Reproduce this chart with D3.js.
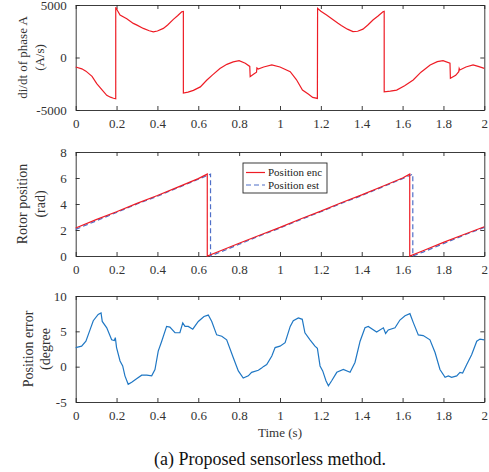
<!DOCTYPE html>
<html lang="en">
<head>
	<meta charset="utf-8">
		<script type="text/javascript" src="https://d3js.org/d3.v7.min.js"></script>
		<style type="text/css">
			body { margin: 0; background: #fff; }
			svg text { font-family: "Liberation Serif", "DejaVu Serif", serif !important; }
		</style>
</head>
<body>
<script type="text/javascript">
// x ticks shared by all three panels
var timeTicks = [0, 0.2, 0.4, 0.6, 0.8, 1, 1.2, 1.4, 1.6, 1.8, 2];

// panel 1: di/dt of phase A
var didtTime = [0, 0.03, 0.05, 0.08, 0.103, 0.13, 0.152, 0.17, 0.185, 0.196,
  0.196, 0.205, 0.217, 0.25, 0.282, 0.3, 0.331, 0.36, 0.38, 0.4, 0.429, 0.45, 0.478, 0.5, 0.519, 0.527,
  0.527, 0.55, 0.576, 0.61, 0.641, 0.67, 0.706, 0.74, 0.771, 0.8, 0.83, 0.852,
  0.854, 0.87, 0.885, 0.887, 0.893, 0.92, 0.96, 1.0, 1.05, 1.08, 1.11, 1.14, 1.16, 1.183,
  1.184, 1.2, 1.228, 1.26, 1.284, 1.3, 1.33, 1.357, 1.38, 1.406, 1.43, 1.455, 1.48, 1.504, 1.51,
  1.51, 1.54, 1.571, 1.61, 1.652, 1.69, 1.735, 1.77, 1.798, 1.832,
  1.834, 1.86, 1.875, 1.877, 1.88, 1.91, 1.945, 1.97, 2.0];
var didtValue = [-900, -1080, -1300, -1800, -2490, -3100, -3600, -3780, -3880, -3920,
  4780, 4450, 4040, 3700, 3250, 3080, 2770, 2550, 2450, 2520, 2770, 3100, 3630, 4000, 4360, 4380,
  -3380, -3300, -3130, -2800, -2170, -1650, -1050, -650, -420, -300, -550, -850,
  -1830, -1600, -1400, -1000, -1100, -900, -710, -900, -1350, -2100, -3100, -3500, -3800, -3900,
  4690, 4400, 4050, 3600, 3260, 3050, 2700, 2460, 2500, 2700, 3100, 3570, 3950, 4360, 4400,
  -3260, -3200, -3100, -2700, -2140, -1400, -710, -400, -300, -550,
  -1980, -1700, -1350, -1050, -1190, -900, -710, -850, -1030];
var didtTicks = [-5000, 0, 5000];

// panel 2: rotor position
var encTime = [0, 0.1, 0.2, 0.3, 0.4, 0.5, 0.6, 0.644, 0.644, 0.7, 0.8, 0.9, 1.0, 1.1, 1.2, 1.3, 1.4, 1.5, 1.6, 1.635, 1.635, 1.7, 1.8, 1.9, 2.0];
var encValue = [2.15, 2.8, 3.4, 4.05, 4.65, 5.3, 5.95, 6.3, 0, 0.35, 0.98, 1.6, 2.2, 2.85, 3.45, 4.1, 4.7, 5.35, 6.0, 6.3, 0, 0.4, 1.05, 1.65, 2.25];
var estTime = [0, 0.1, 0.2, 0.3, 0.4, 0.5, 0.6, 0.66, 0.66, 0.7, 0.8, 0.9, 1.0, 1.1, 1.2, 1.3, 1.4, 1.5, 1.6, 1.65, 1.65, 1.7, 1.8, 1.9, 2.0];
var estValue = [2.05, 2.7, 3.35, 4.0, 4.6, 5.25, 5.9, 6.3, 0, 0.25, 0.9, 1.55, 2.15, 2.8, 3.4, 4.05, 4.65, 5.3, 5.95, 6.3, 0, 0.3, 0.95, 1.6, 2.2];
var posTicks = [0, 2, 4, 6, 8];

// panel 3: position error
var errTime = [0, 0.029, 0.05, 0.07, 0.086, 0.11, 0.124, 0.13, 0.152, 0.176, 0.189, 0.194, 0.2, 0.217, 0.23, 0.241, 0.257,
  0.274, 0.298, 0.323, 0.348, 0.372, 0.388, 0.404, 0.421, 0.445, 0.461, 0.486, 0.51, 0.524, 0.535, 0.551, 0.573,
  0.6, 0.628, 0.649, 0.666, 0.69, 0.715, 0.739, 0.771, 0.796, 0.82, 0.845, 0.861, 0.894, 0.91, 0.918, 0.935,
  0.96, 0.976, 1.0, 1.025, 1.05, 1.065, 1.09, 1.109, 1.122, 1.147, 1.171, 1.183, 1.196, 1.209, 1.225, 1.237,
  1.253, 1.278, 1.31, 1.343, 1.367, 1.392, 1.416, 1.432, 1.473, 1.506, 1.517, 1.53, 1.563, 1.587, 1.612, 1.636,
  1.653, 1.677, 1.701, 1.734, 1.759, 1.783, 1.808, 1.824, 1.84, 1.865, 1.881, 1.894, 1.914, 1.938, 1.963, 1.979, 2.0];
var errValue = [2.7, 2.9, 3.6, 5.2, 6.5, 7.4, 7.6, 6.4, 5.5, 3.8, 3.7, 4.1, 2.7, 0.8, 0.1, -1.3, -2.5,
  -2.2, -1.7, -1.2, -1.2, -1.3, -0.4, 2.2, 3.6, 5.7, 5.6, 4.8, 4.8, 6.2, 5.7, 5.7, 5.3,
  6.4, 7.1, 7.3, 6.4, 4.5, 4.3, 3.8, 1.3, -0.6, -1.6, -1.3, -0.8, -0.5, -0.2, 0, 0.3,
  1.5, 2.7, 2.9, 3.4, 5.7, 6.5, 6.9, 6.7, 4.8, 3.8, 2.9, 2.6, 0.1, -0.6, -2.0, -2.7,
  -2.0, -0.8, -0.4, -0.8, 0.6, 3.6, 5.5, 5.7, 4.9, 5.5, 4.7, 5.2, 5.5, 6.6, 7.2, 7.5,
  6.2, 4.5, 4.4, 3.8, 2.0, -0.4, -1.5, -1.3, -1.5, -1.3, -0.8, -0.9, 0.3, 1.7, 3.6, 3.9, 3.8];
var errTicks = [-5, 0, 5, 10];

var width = 489, height = 472;
var left = 75.7, right = 484.3;
var serif = "'Liberation Serif', 'DejaVu Serif', serif";

var svg = d3.select("body")
    .append("svg")
    .attr("width", width)
    .attr("height", height);

svg.append("rect")
    .attr("width", width)
    .attr("height", height)
    .attr("fill", "#fff");

var x = d3.scaleLinear().domain([0, 2]).range([left, right]);
var plain = function(d) { return String(d); };

function drawPanel(top, bottom, domain, yTicks, label1, label2, label1x, label2x, labelSize) {
  var y = d3.scaleLinear().domain(domain).range([bottom, top]);
  var g = svg.append("g");

  g.append("g")
      .attr("transform", "translate(0," + bottom + ")")
      .call(d3.axisBottom(x).tickValues(timeTicks).tickSizeInner(-4).tickSizeOuter(0).tickPadding(9).tickFormat(plain));
  g.append("g")
      .attr("transform", "translate(0," + top + ")")
      .call(d3.axisTop(x).tickValues(timeTicks).tickSizeInner(-4).tickSizeOuter(0).tickFormat(""));
  g.append("g")
      .attr("transform", "translate(" + left + ",0)")
      .call(d3.axisLeft(y).tickValues(yTicks).tickSizeInner(-4).tickSizeOuter(0).tickPadding(9).tickFormat(plain));
  g.append("g")
      .attr("transform", "translate(" + right + ",0)")
      .call(d3.axisRight(y).tickValues(yTicks).tickSizeInner(-4).tickSizeOuter(0).tickFormat(""));

  g.selectAll("g").attr("font-family", serif);
  g.selectAll(".domain").attr("stroke", "#262626").attr("stroke-width", 0.9);
  g.selectAll(".tick line").attr("stroke", "#262626").attr("stroke-width", 0.9);
  g.selectAll(".tick text")
      .attr("fill", "#333")
      .attr("font-size", 13);

  var mid = (top + bottom) / 2;
  g.append("text")
      .attr("transform", "translate(" + label1x + "," + mid + ") rotate(-90)")
      .attr("text-anchor", "middle")
      .attr("dy", "0.35em")
      .attr("font-size", labelSize)
      .attr("fill", "#333")
      .text(label1);
  g.append("text")
      .attr("transform", "translate(" + label2x + "," + mid + ") rotate(-90)")
      .attr("text-anchor", "middle")
      .attr("dy", "0.35em")
      .attr("font-size", labelSize)
      .attr("fill", "#333")
      .text(label2);
  return y;
}

function drawLine(y, ts, vs, color, dash) {
  var pts = ts.map(function(t, i) { return [t, vs[i]]; });
  svg.append("path")
      .datum(pts)
      .attr("fill", "none")
      .attr("stroke", color)
      .attr("stroke-width", 1.2)
      .attr("stroke-dasharray", dash || null)
      .attr("d", d3.line()
        .x(function(d) { return x(d[0]); })
        .y(function(d) { return y(d[1]); }));
}

// top panel
var y1 = drawPanel(5, 110, [-5000, 5000], didtTicks, "di/dt of phase A", "(A/s)", 22, 39, 13);
drawLine(y1, didtTime, didtValue, "#ee1c25");

// middle panel
var y2 = drawPanel(152, 256, [0, 8], posTicks, "Rotor position", "(rad)", 22, 40, 14);
drawLine(y2, estTime, estValue, "#4f6fc8", "5,3");
drawLine(y2, encTime, encValue, "#ee1c25");

// legend
var lg = svg.append("g").attr("font-family", serif);
lg.append("rect")
    .attr("x", 243).attr("y", 163).attr("width", 84).attr("height", 30)
    .attr("fill", "#fff").attr("stroke", "#262626").attr("stroke-width", 0.9);
lg.append("line").attr("x1", 246).attr("x2", 265).attr("y1", 172.5).attr("y2", 172.5)
    .attr("stroke", "#ee1c25").attr("stroke-width", 1.2);
lg.append("line").attr("x1", 246).attr("x2", 265).attr("y1", 185).attr("y2", 185)
    .attr("stroke", "#4f6fc8").attr("stroke-width", 1.2).attr("stroke-dasharray", "5,3");
lg.append("text").attr("x", 268).attr("y", 172.5).attr("dy", "0.35em")
    .attr("font-size", 11).attr("fill", "#222").text("Position enc");
lg.append("text").attr("x", 268).attr("y", 185).attr("dy", "0.35em")
    .attr("font-size", 11).attr("fill", "#222").text("Position est");

// bottom panel
var y3 = drawPanel(296, 402, [-5, 10], errTicks, "Position error", "(degree", 28, 45, 14);
drawLine(y3, errTime, errValue, "#1f77c4");

svg.append("text")
    .attr("x", x(1))
    .attr("y", 437)
    .attr("text-anchor", "middle")
    .attr("font-family", serif)
    .attr("font-size", 13)
    .attr("fill", "#333")
    .text("Time (s)");

svg.append("text")
    .attr("x", 270)
    .attr("y", 465)
    .attr("text-anchor", "middle")
    .attr("font-family", serif)
    .attr("font-size", 18)
    .attr("fill", "#111")
    .text("(a) Proposed sensorless method.");
</script>
</body>
</html>
